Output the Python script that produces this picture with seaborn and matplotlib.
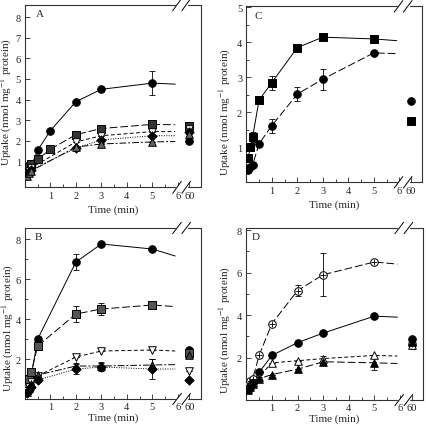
import numpy as np
import matplotlib
matplotlib.use('Agg')
import matplotlib.pyplot as plt
import seaborn as sns
from matplotlib.ticker import FixedLocator

sns.set_style('ticks')
plt.rcParams['font.family'] = ['Liberation Serif', 'DejaVu Serif']
plt.rcParams['mathtext.fontset'] = 'stix'
plt.rcParams['axes.linewidth'] = 0.8

# time points (min); the 60 min point sits after the axis break
t_early = [0.08, 0.15, 0.25]
t_full = t_early + [0.5, 1, 2, 3, 5]
t_no1 = t_early + [0.5, 2, 3, 5]
t_late = t_early + [2, 3, 5]
t_fit_end = 5.9

# panel A
a_circ = [0.45, 0.6, 0.8, 1.55, 2.5, 3.9, 4.5, 4.8]
a_circ_err = [0, 0, 0, 0, 0, 0, 0.12, 0.6]
a_sq = [0.55, 0.75, 0.9, 1.1, 1.6, 2.3, 2.6, 2.8]
a_invtri = [0.4, 0.55, 0.7, 1.95, 2.25, 2.45]
a_diam = [0.35, 0.5, 0.6, 1.65, 2.05, 2.25]
a_tri = [0.3, 0.45, 0.55, 1.7, 1.85, 1.95]
a_60 = {'circ': 2.0, 'sq': 2.72, 'invtri': 2.6, 'diam': 2.45, 'tri': 2.35}
a_end = {'circ': 4.75, 'sq': 2.78, 'invtri': 2.45, 'diam': 2.25, 'tri': 1.97}

# panel B
b_circ = [0.5, 0.8, 1.2, 3.0, 6.85, 7.75, 7.5]
b_circ_err = [0, 0, 0, 0, 0.4, 0, 0]
b_sq = [0.6, 1.0, 1.35, 2.65, 4.25, 4.5, 4.7]
b_sq_err = [0, 0, 0, 0, 0.4, 0.3, 0.15]
b_invtri = [0.4, 0.6, 0.85, 1.15, 2.1, 2.4, 2.45]
b_tri = [0.35, 0.55, 0.75, 1.2, 1.65, 1.65, 1.7]
b_tri_err = [0, 0, 0, 0, 0.15, 0.2, 0.3]
b_diam = [0.3, 0.45, 0.6, 0.95, 1.5, 1.6, 1.5]
b_diam_err = [0, 0, 0, 0, 0.25, 0.2, 0.5]
b_60 = {'circ': 2.45, 'sq': 2.3, 'invtri': 1.4, 'tri': 2.2, 'diam': 0.95}
b_end = {'circ': 7.15, 'sq': 4.62, 'invtri': 2.4, 'tri': 1.72, 'diam': 1.5}

# panel C
c_sq = [0.7, 1.0, 1.3, 2.35, 2.85, 3.85, 4.15, 4.1]
c_sq_err = [0, 0, 0.15, 0, 0.2, 0, 0, 0]
c_circ = [0.35, 0.45, 0.5, 1.1, 1.62, 2.52, 2.95, 3.7]
c_circ_err = [0, 0, 0, 0, 0.2, 0.2, 0.3, 0.05]
c_60 = {'sq': 1.75, 'circ': 2.33}
c_end = {'sq': 4.05, 'circ': 3.68}

# panel D
d_ocirc = [0.7, 0.9, 1.0, 2.1, 3.6, 5.15, 5.9, 6.5]
d_ocirc_err = [0, 0, 0, 0, 0, 0.25, 1.0, 0.1]
d_circ = [0.5, 0.65, 0.8, 1.3, 2.1, 2.7, 3.15, 3.95]
d_otri = [0.55, 0.7, 0.85, 1.1, 1.75, 1.85, 1.95, 2.1]
d_otri_err = [0, 0, 0, 0, 0, 0, 0.1, 0]
d_tri = [0.45, 0.6, 0.75, 1.0, 1.2, 1.45, 1.8, 1.75]
d_tri_err = [0, 0, 0, 0, 0, 0, 0, 0.35]
d_60 = {'ocirc': 2.65, 'circ': 2.85, 'otri': 2.6, 'tri': 2.75}
d_60_err = {'ocirc': 0.2, 'otri': 0.2}
d_end = {'ocirc': 6.4, 'circ': 3.9, 'otri': 2.07, 'tri': 1.72}

# broken x axis layout
POS_60 = 6.45
BREAK_A, BREAK_B = 5.97, 6.33

SOLID = '-'
LONG = (0, (8, 3))
SHORT = (0, (4, 2.5))
DOT = (0, (1, 1.5))
DASHDOT = (0, (7, 2, 2, 2))


def series(ax, t, y, y60, yend, marker, face, ls, err=None, err60=0, s=30):
    sns.lineplot(x=list(t) + [t_fit_end], y=list(y) + [yend], ax=ax, color='k',
                 lw=0.7, linestyle=ls, sort=False, zorder=2)
    px = list(t) + [POS_60]
    py = list(y) + [y60]
    pe = (list(err) if err is not None else [0] * len(y)) + [err60]
    ax.errorbar(px, py, yerr=pe, fmt='none', ecolor='k', elinewidth=0.6,
                capsize=2, capthick=0.6, zorder=3)
    if marker == 'oplus':
        sns.scatterplot(x=px, y=py, ax=ax, marker='o', s=s, color='white',
                        edgecolor='k', linewidth=0.7, zorder=4)
        sns.scatterplot(x=px, y=py, ax=ax, marker='+', s=s * 0.8, color='k',
                        linewidth=0.6, zorder=5)
    else:
        sns.scatterplot(x=px, y=py, ax=ax, marker=marker, s=s, color=face,
                        edgecolor='k', linewidth=0.7, zorder=4)


def frame(ax, letter, ylim, yticks, yminor, label_xy, letter_x, xpad=3, lpad=3):
    ax.set_xlim(0, 6.9)
    ax.set_ylim(*ylim)
    ax.xaxis.set_major_locator(FixedLocator([1, 2, 3, 4, 5, 6, POS_60]))
    ax.set_xticklabels(['1', '2', '3', '4', '5', '6', '60'])
    ax.xaxis.set_minor_locator(FixedLocator(np.arange(0.5, 6, 0.5)))
    ax.yaxis.set_major_locator(FixedLocator(yticks))
    ax.set_yticklabels([str(v) for v in yticks])
    if yminor:
        ax.yaxis.set_minor_locator(FixedLocator(yminor))
    ax.tick_params(which='major', direction='in', length=3.5, width=0.6,
                   labelsize=7.5, pad=3)
    ax.tick_params(axis='x', which='major', pad=xpad)
    ax.tick_params(which='minor', direction='in', length=2, width=0.6)
    for sp in ax.spines.values():
        sp.set_visible(True)
        sp.set_color('#333333')
    ax.set_xlabel('Time (min)', fontsize=8, labelpad=lpad)
    ax.set_ylabel('Uptake (nmol mg$^{-1}$ protein)', fontsize=8)
    ax.yaxis.set_label_coords(*label_xy)
    ax.text(letter_x, 0.95, letter, transform=ax.transAxes, fontsize=8,
            ha='left', va='center')
    tr = ax.get_xaxis_transform()
    for yy in (0, 1):
        ax.plot([BREAK_A, BREAK_B], [yy, yy], color='white', lw=2.5,
                transform=tr, clip_on=False, zorder=6)
        for xb in (BREAK_A, BREAK_B):
            ax.plot([xb - 0.17, xb + 0.17], [yy - 0.033, yy + 0.033], color='k',
                    lw=0.7, transform=tr, clip_on=False, zorder=7)


fig = plt.figure(figsize=(4.27, 4.27), dpi=100)
axA = fig.add_axes([0.0585, 0.559, 0.4115, 0.4276])
axC = fig.add_axes([0.5768, 0.5707, 0.412, 0.412])
axB = fig.add_axes([0.0585, 0.0632, 0.4115, 0.4005])
axD = fig.add_axes([0.5768, 0.0609, 0.414, 0.4028])

# A
series(axA, t_full, a_circ, a_60['circ'], a_end['circ'], 'o', 'k', SOLID, a_circ_err)
series(axA, t_full, a_sq, a_60['sq'], a_end['sq'], 's', '#333333', LONG, err60=0.18, s=26)
series(axA, t_late, a_invtri, a_60['invtri'], a_end['invtri'], 'v', 'white', SHORT)
series(axA, t_late, a_diam, a_60['diam'], a_end['diam'], 'D', 'k', DOT, s=22)
series(axA, t_late, a_tri, a_60['tri'], a_end['tri'], '^', '#666666', DASHDOT)
frame(axA, 'A', (-0.25, 8.6), [1, 2, 3, 4, 5, 6, 7, 8], None, (-0.06, 0.47), 0.06)

# C
series(axC, t_full, c_sq, c_60['sq'], c_end['sq'], 's', 'k', SOLID, c_sq_err, s=26)
series(axC, t_full, c_circ, c_60['circ'], c_end['circ'], 'o', 'k', LONG, c_circ_err)
frame(axC, 'C', (0, 5.03), [1, 2, 3, 4, 5], list(np.arange(0.5, 5, 1.0)), (-0.075, 0.405), 0.045)

# B
series(axB, t_no1, b_circ, b_60['circ'], b_end['circ'], 'o', 'k', SOLID, b_circ_err)
series(axB, t_no1, b_sq, b_60['sq'], b_end['sq'], 's', '#555555', LONG, b_sq_err, s=26)
series(axB, t_no1, b_invtri, b_60['invtri'], b_end['invtri'], 'v', 'white', SHORT)
series(axB, t_no1, b_tri, b_60['tri'], b_end['tri'], '^', '#444444', DASHDOT, b_tri_err)
series(axB, t_no1, b_diam, b_60['diam'], b_end['diam'], 'D', 'k', DOT, b_diam_err, s=22)
frame(axB, 'B', (0, 8.55), [2, 4, 6, 8], [1, 3, 5, 7], (-0.052, 0.42), 0.055, xpad=2, lpad=1)

# D
series(axD, t_full, d_ocirc, d_60['ocirc'], d_end['ocirc'], 'oplus', 'white', LONG,
       d_ocirc_err, err60=d_60_err['ocirc'])
series(axD, t_full, d_circ, d_60['circ'], d_end['circ'], 'o', 'k', SOLID)
series(axD, t_full, d_otri, d_60['otri'], d_end['otri'], '^', 'white', SHORT,
       d_otri_err, err60=d_60_err['otri'])
series(axD, t_full, d_tri, d_60['tri'], d_end['tri'], '^', 'k', LONG, d_tri_err)
frame(axD, 'D', (0, 8.1), [2, 4, 6, 8], [1, 3, 5, 7], (-0.075, 0.41), 0.03, xpad=2, lpad=1)

fig.savefig('out.png', dpi=100)
plt.close(fig)
